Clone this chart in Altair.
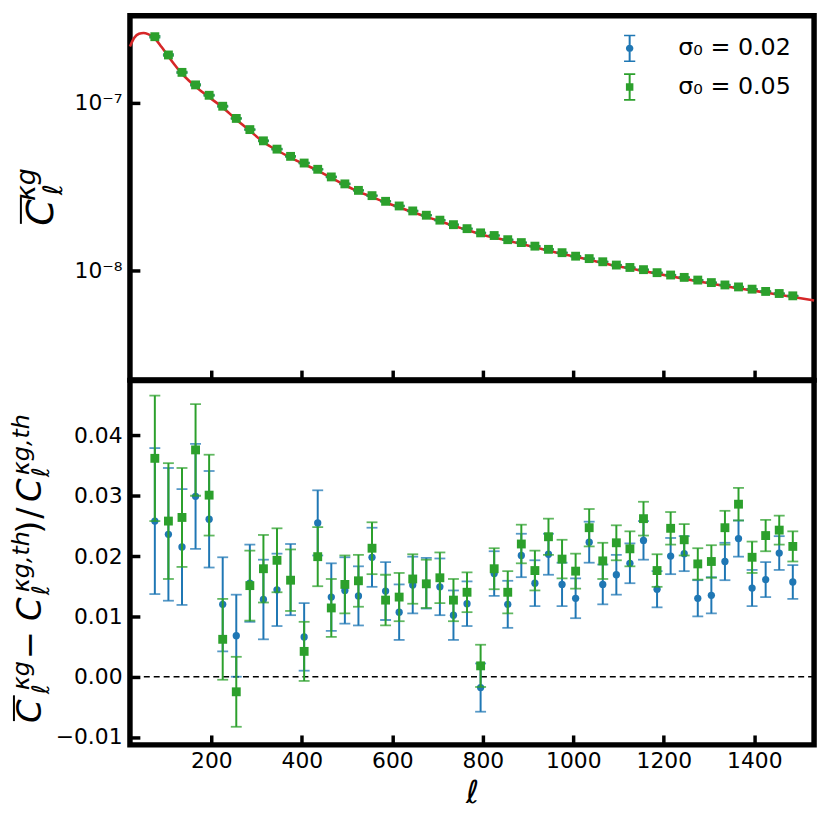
import altair as alt
import pandas as pd

# ---------------- data ----------------
ELL = [75, 105, 135, 165, 195, 225, 255, 285, 315, 345, 375, 405, 435, 465, 495,
       525, 555, 585, 615, 645, 675, 705, 735, 765, 795, 825, 855, 885, 915, 945,
       975, 1005, 1035, 1065, 1095, 1125, 1155, 1185, 1215, 1245, 1275, 1305, 1335,
       1365, 1395, 1425, 1455, 1485]

CL_OBS = [2.48e-7, 1.93e-7, 1.52e-7, 1.28e-7, 1.11e-7, 9.55e-8, 8.08e-8, 6.93e-8,
          5.94e-8, 5.30e-8, 4.80e-8, 4.38e-8, 4.02e-8, 3.62e-8, 3.29e-8, 3.01e-8,
          2.80e-8, 2.59e-8, 2.43e-8, 2.27e-8, 2.14e-8, 2.00e-8, 1.88e-8, 1.78e-8,
          1.68e-8, 1.62e-8, 1.53e-8, 1.47e-8, 1.40e-8, 1.34e-8, 1.28e-8, 1.22e-8,
          1.18e-8, 1.13e-8, 1.08e-8, 1.045e-8, 1.014e-8, 9.73e-9, 9.42e-9, 9.12e-9,
          8.79e-9, 8.49e-9, 8.22e-9, 8.00e-9, 7.76e-9, 7.52e-9, 7.31e-9, 7.08e-9]

TH_ELL = [20, 30, 40, 50, 60, 75, 90, 105, 120, 135, 150, 165, 180, 195, 225, 255,
          285, 315, 345, 375, 405, 435, 465, 495, 525, 555, 585, 615, 645, 675, 705,
          735, 765, 795, 855, 915, 975, 1035, 1095, 1155, 1215, 1275, 1335, 1395,
          1455, 1532]
TH_CL = [2.17e-7, 2.45e-7, 2.58e-7, 2.61e-7, 2.57e-7, 2.42e-7, 2.15e-7, 1.89e-7,
         1.67e-7, 1.49e-7, 1.36e-7, 1.25e-7, 1.16e-7, 1.08e-7, 9.40e-8, 7.95e-8,
         6.82e-8, 5.85e-8, 5.22e-8, 4.72e-8, 4.31e-8, 3.95e-8, 3.57e-8, 3.24e-8,
         2.96e-8, 2.75e-8, 2.55e-8, 2.39e-8, 2.23e-8, 2.10e-8, 1.97e-8, 1.85e-8,
         1.75e-8, 1.65e-8, 1.51e-8, 1.38e-8, 1.26e-8, 1.16e-8, 1.065e-8, 9.95e-9,
         9.25e-9, 8.65e-9, 8.08e-9, 7.63e-9, 7.18e-9, 6.65e-9]

RES_002 = [0.0258, 0.0236, 0.0215, 0.0299, 0.0261, 0.0120, 0.0068, 0.0155, 0.0128,
           0.0144, 0.0161, 0.0066, 0.0255, 0.0132, 0.0143, 0.0134, 0.0198, 0.0142,
           0.0107, 0.0152, 0.0155, 0.0149, 0.0102, 0.0121, -0.0018, 0.0171, 0.0120,
           0.0201, 0.0155, 0.0203, 0.0153, 0.0130, 0.0223, 0.0153, 0.0169, 0.0188,
           0.0226, 0.0145, 0.0200, 0.0204, 0.0130, 0.0135, 0.0191, 0.0229, 0.0147,
           0.0161, 0.0205, 0.0157]
ERR_002 = [0.0121, 0.0110, 0.0096, 0.0087, 0.0080, 0.0078, 0.0068, 0.0064, 0.0066,
           0.0060, 0.0059, 0.0056, 0.0054, 0.0056, 0.0055, 0.0049, 0.0049, 0.0048,
           0.0046, 0.0047, 0.0042, 0.0047, 0.0041, 0.0037, 0.0040, 0.0037, 0.0039,
           0.0036, 0.0038, 0.0034, 0.0036, 0.0033, 0.0034, 0.0033, 0.0033, 0.0033,
           0.0032, 0.0030, 0.0030, 0.0029, 0.0030, 0.0030, 0.0031, 0.0030, 0.0030,
           0.0029, 0.0028, 0.0028]

RES_005 = [0.0362, 0.0258, 0.0264, 0.0376, 0.0301, 0.0062, -0.0025, 0.0151, 0.0179,
           0.0193, 0.0160, 0.0042, 0.0199, 0.0114, 0.0153, 0.0159, 0.0213, 0.0127,
           0.0132, 0.0162, 0.0154, 0.0164, 0.0127, 0.0140, 0.0018, 0.0179, 0.0140,
           0.0220, 0.0176, 0.0232, 0.0195, 0.0175, 0.0247, 0.0192, 0.0222, 0.0212,
           0.0262, 0.0176, 0.0246, 0.0227, 0.0187, 0.0191, 0.0247, 0.0286, 0.0198,
           0.0234, 0.0243, 0.0216]
ERR_005 = [0.0104, 0.0096, 0.0082, 0.0076, 0.0067, 0.0067, 0.0058, 0.0058, 0.0056,
           0.0053, 0.0051, 0.0049, 0.0049, 0.0048, 0.0048, 0.0043, 0.0043, 0.0042,
           0.0040, 0.0041, 0.0040, 0.0042, 0.0035, 0.0033, 0.0035, 0.0034, 0.0035,
           0.0032, 0.0033, 0.0030, 0.0032, 0.0029, 0.0031, 0.0030, 0.0029, 0.0029,
           0.0028, 0.0027, 0.0027, 0.0026, 0.0026, 0.0027, 0.0028, 0.0027, 0.0026,
           0.0026, 0.0024, 0.0025]

SERIES = ["σ₀ = 0.02", "σ₀ = 0.05"]
X_TICKS = [200, 400, 600, 800, 1000, 1200, 1400]
Y_TICKS_BOT = [-0.01, 0.0, 0.01, 0.02, 0.03, 0.04]

BLUE, GREEN, RED = "#1f77b4", "#2ca02c", "#d62728"
FONT = "DejaVu Sans"

# ---------------- tables ----------------
def series_df(res, err):
    d = pd.DataFrame({"ell": ELL, "cl": CL_OBS, "res": res, "err": err})
    d["cl_lo"] = d["cl"] * (1 - d["err"])
    d["cl_hi"] = d["cl"] * (1 + d["err"])
    d["res_lo"] = d["res"] - d["err"]
    d["res_hi"] = d["res"] + d["err"]
    return d

df02 = series_df(RES_002, ERR_002)
df05 = series_df(RES_005, ERR_005)
th = pd.DataFrame({"ell": TH_ELL, "cl": TH_CL})
one = pd.DataFrame({"k": [0]})

# ---------------- geometry ----------------
W, H = 690, 367.5
VX, VY_TOP, VY_BOT = 128, 12, 12 + H   # page position of the panels

x_scale = alt.Scale(domain=[20, 1532], nice=False, zero=False)
y_top_scale = alt.Scale(type="log", domain=[2.23e-9, 3.31e-7], nice=False)
y_bot_scale = alt.Scale(domain=[-0.0113, 0.0491], nice=False, zero=False)

common_axis = dict(domain=False, grid=False, ticks=True, tickSize=10, tickWidth=3.5,
                   tickColor="black", offset=-10, labelFont=FONT, labelFontSize=22,
                   labelColor="black")
top_x_axis = alt.Axis(values=X_TICKS, labels=False, title=None, **common_axis)
bot_x_axis = alt.Axis(values=X_TICKS, format="d", title="ℓ", titleFont=FONT,
                      titleFontStyle="italic", titleFontWeight="normal",
                      titleFontSize=32, titleColor="black", titlePadding=6,
                      labelPadding=6, **common_axis)
top_y_axis = alt.Axis(values=[1e-8, 1e-7], title=None, labelPadding=8,
                      labelExpr="datum.value < 5e-8 ? '10⁻⁸' : '10⁻⁷'", **common_axis)
bot_y_axis = alt.Axis(values=Y_TICKS_BOT, format=".2f", title=None, labelPadding=8,
                      **common_axis)


def X(axis):
    return alt.X("ell:Q", scale=x_scale, axis=axis)


def errbars(df, ycol, lo, hi, yscale, xaxis, yaxis, color, shape, size):
    base = alt.Chart(df)
    bars = base.mark_rule(color=color, strokeWidth=2).encode(
        x=X(xaxis), y=alt.Y(f"{lo}:Q", scale=yscale, axis=yaxis), y2=f"{hi}:Q")
    cap_lo = base.mark_tick(color=color, orient="horizontal", size=11, thickness=1.8,
                            opacity=0.75).encode(
        x=X(xaxis), y=alt.Y(f"{lo}:Q", scale=yscale, axis=yaxis))
    cap_hi = base.mark_tick(color=color, orient="horizontal", size=11, thickness=1.8,
                            opacity=0.75).encode(
        x=X(xaxis), y=alt.Y(f"{hi}:Q", scale=yscale, axis=yaxis))
    pts = base.mark_point(filled=True, shape=shape, size=size, color=color,
                          opacity=1).encode(
        x=X(xaxis), y=alt.Y(f"{ycol}:Q", scale=yscale, axis=yaxis))
    return [bars, cap_lo, cap_hi, pts]


def piece(text, px, py, size, style, oy):
    return alt.Chart(one).mark_text(
        text=text, angle=270, align="left", baseline="alphabetic", font=FONT,
        fontSize=size, fontStyle=style, color="black").encode(
        x=alt.value(px - VX), y=alt.value(py - oy))


def overline(px, py1, py2, oy):
    return alt.Chart(one).mark_rule(color="black", strokeWidth=2).encode(
        x=alt.value(px - VX), y=alt.value(py1 - oy), y2=alt.value(py2 - oy))


# ---------------- legend (symbols: error bar + marker) ----------------
BAR = ("M-0.435,-1.065L0.435,-1.065L0.435,-0.935L-0.435,-0.935Z"
       "M-0.077,-1L0.077,-1L0.077,1L-0.077,1Z"
       "M-0.435,0.935L0.435,0.935L0.435,1.065L-0.435,1.065Z")
PATH_CIRCLE = BAR + "M0.29,0A0.29,0.29,0,1,1,-0.29,0A0.29,0.29,0,1,1,0.29,0Z"
PATH_SQUARE = BAR + "M-0.29,-0.29L0.29,-0.29L0.29,0.29L-0.29,0.29Z"
leg = alt.Legend(title=None, orient="none", legendX=632 - VX - 13,
                 legendY=45 - VY_TOP - 13, labelFont=FONT, labelFontSize=24,
                 labelColor="black", symbolSize=676, symbolStrokeWidth=0,
                 rowPadding=11, labelOffset=36, padding=0, labelLimit=300)
legend_layer = alt.Chart(pd.DataFrame({"series": SERIES})).transform_filter(
    "false").mark_point(filled=True, opacity=1).encode(
    x=alt.value(0), y=alt.value(0),
    color=alt.Color("series:N", scale=alt.Scale(domain=SERIES, range=[BLUE, GREEN]),
                    legend=leg),
    shape=alt.Shape("series:N", scale=alt.Scale(domain=SERIES,
                                                range=[PATH_CIRCLE, PATH_SQUARE]),
                    legend=leg))

# ---------------- top panel ----------------
theory = alt.Chart(th).mark_line(color=RED, strokeWidth=2.6, interpolate="monotone").encode(
    x=X(top_x_axis), y=alt.Y("cl:Q", scale=y_top_scale, axis=top_y_axis))

top_layers = [theory]
top_layers += errbars(df02, "cl", "cl_lo", "cl_hi", y_top_scale, top_x_axis, top_y_axis,
                      BLUE, "circle", 54)
top_layers += errbars(df05, "cl", "cl_lo", "cl_hi", y_top_scale, top_x_axis, top_y_axis,
                      GREEN, "square", 80)
top_layers += [legend_layer,
               piece("C", 50, 224, 38, "italic", VY_TOP),
               overline(18, 222, 195, VY_TOP),
               piece("ℓ", 59, 193, 27, "italic", VY_TOP),
               piece("κg", 32, 199, 27, "italic", VY_TOP)]
top = alt.layer(*top_layers).properties(width=W, height=H)

# ---------------- bottom panel ----------------
zero = alt.Chart(one).mark_rule(color="black", strokeWidth=1.6, strokeDash=[6, 4]).encode(
    y=alt.datum(0, scale=y_bot_scale))

bot_layers = [zero]
bot_layers += errbars(df02, "res", "res_lo", "res_hi", y_bot_scale, bot_x_axis, bot_y_axis,
                      BLUE, "circle", 54)
bot_layers += errbars(df05, "res", "res_lo", "res_hi", y_bot_scale, bot_x_axis, bot_y_axis,
                      GREEN, "square", 80)
bot_layers += [piece("C", 38, 725, 34, "italic", VY_BOT),
               overline(11, 723, 697, VY_BOT),
               piece("ℓ", 46, 696, 24, "italic", VY_BOT),
               piece("κg", 26, 692, 24, "italic", VY_BOT),
               piece("−", 38, 661, 34, "normal", VY_BOT),
               piece("C", 38, 622, 34, "italic", VY_BOT),
               piece("ℓ", 46, 596, 24, "italic", VY_BOT),
               piece("κg,th", 26, 593, 24, "italic", VY_BOT),
               piece(")", 38, 534, 34, "normal", VY_BOT),
               piece("/", 38, 519, 34, "normal", VY_BOT),
               piece("C", 38, 502, 34, "italic", VY_BOT),
               piece("ℓ", 46, 477, 24, "italic", VY_BOT),
               piece("κg,th", 26, 475, 24, "italic", VY_BOT)]
bottom = alt.layer(*bot_layers).properties(width=W, height=H)

# keep the whole svg narrower than the 814px page body so it is not shrunk
chart = alt.vconcat(top, bottom, spacing=0, bounds="flush").configure_view(
    stroke="black", strokeWidth=5.5).properties(
    padding={"left": -1, "top": 1.25, "right": 0, "bottom": 0})

chart.save("out.html", embed_options={"renderer": "svg", "actions": False})
